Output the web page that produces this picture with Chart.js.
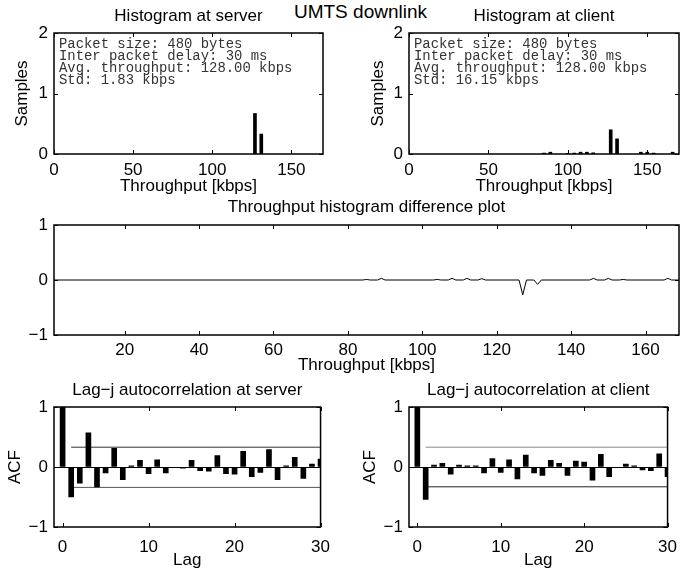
<!DOCTYPE html>
<html lang="en">
<head>
  <meta charset="UTF-8">
  <title>UMTS downlink</title>
  <script src="https://cdn.jsdelivr.net/npm/chart.js"></script>
  <style>
    html, body { margin: 0; padding: 0; background: #fff; overflow: hidden; }
    #fig { position: relative; width: 687px; height: 570px; }
    #fig canvas { position: absolute; }
    #suptitle {
      position: absolute; left: 240px; top: 1px; width: 241px;
      text-align: center; color: #000;
      font: 19px "Liberation Sans", Arial, sans-serif; line-height: 22px;
    }
  </style>
</head>
<body>
  <div id="fig">
    <div id="suptitle">UMTS downlink</div>
    <canvas id="histServer" width="340" height="197" style="left:0;top:0"></canvas>
    <canvas id="histClient" width="347" height="197" style="left:340px;top:0"></canvas>
    <canvas id="diffPlot" width="687" height="180" style="left:0;top:195px"></canvas>
    <canvas id="acfServer" width="340" height="205" style="left:0;top:370px"></canvas>
    <canvas id="acfClient" width="347" height="205" style="left:340px;top:370px"></canvas>
  </div>

  <script>
    // histogram values (throughput kbps -> samples)
    const serverX = [127, 131];
    const serverY = [0.67, 0.33];
    const clientX = [85, 89, 100, 104, 108, 112, 116, 127, 131, 146, 150, 154, 166];
    const clientY = [0.015, 0.03, 0.01, 0.015, 0.03, 0.03, 0.02, 0.40, 0.25, 0.03, 0.03, 0.015, 0.03];

    // difference plot (client - server), vertices of the line
    const diffX = [1, 84, 85, 86, 88, 89, 90, 103, 104, 105, 107, 108, 109, 111, 112, 113, 115, 116, 117,
                   126, 127, 128, 130, 131, 132, 145, 146, 147, 149, 150, 151, 153, 154, 155, 165, 166, 167, 169];
    const diffY = [0, 0, 0.01, 0, 0, 0.03, 0, 0, 0.01, 0, 0, 0.03, 0, 0, 0.03, 0, 0, 0.025, 0,
                   0, -0.27, 0, 0, -0.08, 0, 0, 0.03, 0, 0, 0.03, 0, 0, 0.01, 0, 0, 0.03, 0, 0];

    // autocorrelation, lags 0..30
    const lags = [0, 1, 2, 3, 4, 5, 6, 7, 8, 9, 10, 11, 12, 13, 14, 15, 16, 17, 18, 19, 20, 21, 22, 23, 24, 25, 26, 27, 28, 29, 30];
    const acfServer = [1.0, -0.50, -0.27, 0.57, -0.33, -0.10, 0.31, -0.21, 0.02, 0.11, -0.11, 0.12, -0.10, -0.01, -0.02,
                       0.11, -0.06, -0.07, 0.19, -0.11, -0.12, 0.26, -0.16, -0.09, 0.29, -0.21, 0.02, 0.16, -0.19, 0.05, 0.13];
    const acfClient = [1.0, -0.54, 0.03, 0.06, -0.12, 0.03, 0.02, 0.02, -0.10, 0.14, -0.09, 0.12, -0.20, 0.20, -0.10,
                       -0.14, 0.11, 0.06, -0.14, 0.10, 0.08, -0.22, 0.21, -0.16, -0.01, 0.05, 0.02, -0.05, -0.06, 0.22, -0.16];
    const boundLags = [1, 30];
    const serverUpper = [0.33, 0.33];
    const serverLower = [-0.34, -0.34];
    const clientUpper = [0.33, 0.33];
    const clientLower = [-0.33, -0.33];

    // tick labels
    const histXTicks = [0, 50, 100, 150];
    const histYTicks = [0, 1, 2];
    const diffXTicks = [20, 40, 60, 80, 100, 120, 140, 160];
    const diffYTicks = [-1, 0, 1];
    const acfXTicks = [0, 10, 20, 30];
    const acfYTicks = [-1, 0, 1];

    const serverInfo = ['Packet size: 480 bytes', 'Inter packet delay: 30 ms', 'Avg. throughput: 128.00 kbps', 'Std: 1.83 kbps'];
    const clientInfo = ['Packet size: 480 bytes', 'Inter packet delay: 30 ms', 'Avg. throughput: 128.00 kbps', 'Std: 16.15 kbps'];

    Chart.defaults.font.family = '"Liberation Sans", Arial, Helvetica, sans-serif';
    Chart.defaults.color = '#000';

    const pts = (xs, ys) => xs.map((x, i) => ({ x: x, y: ys[i] }));
    const fmt = v => v < 0 ? '\u2212' + Math.abs(v) : String(v);

    // matlab style box with inward tick marks
    const boxPlugin = {
      id: 'box',
      afterDatasetsDraw(chart) {
        const { ctx, chartArea: a, scales: { x, y } } = chart;
        ctx.save();
        ctx.strokeStyle = '#000';
        ctx.lineWidth = 1;
        ctx.beginPath();
        x.ticks.forEach(t => {
          const px = Math.round(x.getPixelForValue(t.value)) + 0.5;
          ctx.moveTo(px, a.bottom); ctx.lineTo(px, a.bottom - 4);
          ctx.moveTo(px, a.top); ctx.lineTo(px, a.top + 4);
        });
        y.ticks.forEach(t => {
          const py = Math.round(y.getPixelForValue(t.value)) + 0.5;
          ctx.moveTo(a.left, py); ctx.lineTo(a.left + 4, py);
          ctx.moveTo(a.right, py); ctx.lineTo(a.right - 4, py);
        });
        ctx.stroke();
        ctx.lineWidth = 1.5;
        ctx.strokeRect(a.left, a.top, a.right - a.left, a.bottom - a.top);
        ctx.restore();
      }
    };

    function infoPlugin(lines) {
      return {
        id: 'info',
        afterDatasetsDraw(chart) {
          const { ctx, chartArea: a } = chart;
          ctx.save();
          ctx.font = '13.9px "Liberation Mono", "Courier New", monospace';
          ctx.fillStyle = '#333';
          ctx.textBaseline = 'middle';
          lines.forEach((s, i) => ctx.fillText(s, a.left + 5, a.top + 11 + i * 12.2));
          ctx.restore();
        }
      };
    }

    function makeScales(o) {
      return {
        x: {
          type: 'linear', min: o.xMin, max: o.xMax, offset: false,
          afterBuildTicks: s => { s.ticks = o.xTicks.map(v => ({ value: v })); },
          afterFit: s => { s.height = o.xHeight; },
          grid: { display: false, drawTicks: false }, border: { display: false },
          ticks: { font: { size: 17 }, padding: o.xPad, callback: fmt, maxRotation: 0, autoSkip: false },
          title: { display: true, text: o.xTitle, font: { size: 17, lineHeight: 1 }, padding: { top: 0, bottom: o.xTitlePad } }
        },
        y: {
          type: 'linear', min: o.yMin, max: o.yMax,
          afterBuildTicks: s => { s.ticks = o.yTicks.map(v => ({ value: v })); },
          afterFit: s => { s.width = o.yWidth; },
          grid: o.zeroLine
            ? { drawTicks: false, lineWidth: 1, color: c => (c.tick && c.tick.value === 0) ? '#000' : 'rgba(0,0,0,0)' }
            : { display: false, drawTicks: false },
          border: { display: false },
          ticks: { font: { size: 17 }, padding: 6, callback: fmt },
          title: { display: !!o.yTitle, text: o.yTitle || '', font: { size: 17, lineHeight: 1 }, padding: { top: o.yTitlePad || 0, bottom: 0 } }
        }
      };
    }

    function baseOptions(title, titlePad, rightPad, scales) {
      return {
        responsive: false,
        animation: false,
        layout: { padding: { left: 0, right: rightPad, top: 0, bottom: 0 }, autoPadding: false },
        plugins: {
          legend: { display: false },
          tooltip: { enabled: false },
          title: {
            display: true, text: title, fullSize: false,
            font: { size: 17, weight: 'normal', lineHeight: 1.2 },
            padding: titlePad
          }
        },
        scales: scales
      };
    }

    // top: histograms
    new Chart(document.getElementById('histServer'), {
      type: 'bar',
      data: { datasets: [{ data: pts(serverX, serverY), backgroundColor: '#000', barThickness: 3, clip: 0 }] },
      options: baseOptions('Histogram at server', { top: 6, bottom: 6.6 }, 17, makeScales({
        xMin: 0, xMax: 170, xTicks: histXTicks, xHeight: 43, xPad: 6, xTitle: 'Throughput [kbps]', xTitlePad: 2,
        yMin: 0, yMax: 2, yTicks: histYTicks, yWidth: 54, yTitle: 'Samples', yTitlePad: 14
      })),
      plugins: [boxPlugin, infoPlugin(serverInfo)]
    });

    new Chart(document.getElementById('histClient'), {
      type: 'bar',
      data: { datasets: [{ data: pts(clientX, clientY), backgroundColor: '#000', barThickness: 3, clip: 0 }] },
      options: baseOptions('Histogram at client', { top: 6, bottom: 6.6 }, 8, makeScales({
        xMin: 0, xMax: 170, xTicks: histXTicks, xHeight: 43, xPad: 6, xTitle: 'Throughput [kbps]', xTitlePad: 2,
        yMin: 0, yMax: 2, yTicks: histYTicks, yWidth: 69, yTitle: 'Samples', yTitlePad: 30
      })),
      plugins: [boxPlugin, infoPlugin(clientInfo)]
    });

    // middle: difference plot
    new Chart(document.getElementById('diffPlot'), {
      type: 'line',
      data: { datasets: [{ data: pts(diffX, diffY), borderColor: '#000', borderWidth: 1, pointRadius: 0, tension: 0 }] },
      options: baseOptions('Throughput histogram difference plot', { top: 2, bottom: 7.6 }, 8, makeScales({
        xMin: 1, xMax: 169, xTicks: diffXTicks, xHeight: 40, xPad: 5, xTitle: 'Throughput [kbps]', xTitlePad: 1,
        yMin: -1, yMax: 1, yTicks: diffYTicks, yWidth: 54
      })),
      plugins: [boxPlugin]
    });

    // bottom: autocorrelation
    function acfChart(id, title, values, upper, lower, upColor, lowColor, rightPad, yWidth, yTitlePad) {
      new Chart(document.getElementById(id), {
        type: 'bar',
        data: {
          datasets: [
            { data: pts(lags, values), backgroundColor: '#000', barThickness: 5, clip: 0 },
            { type: 'line', data: pts(boundLags, upper), borderColor: upColor, borderWidth: 1, pointRadius: 0 },
            { type: 'line', data: pts(boundLags, lower), borderColor: lowColor, borderWidth: 1, pointRadius: 0 }
          ]
        },
        options: baseOptions(title, { top: 10, bottom: 6.6 }, rightPad, makeScales({
          xMin: -1, xMax: 30, xTicks: acfXTicks, xHeight: 48, xPad: 10, xTitle: 'Lag', xTitlePad: 6,
          yMin: -1, yMax: 1, yTicks: acfYTicks, yWidth: yWidth, yTitle: 'ACF', yTitlePad: yTitlePad, zeroLine: true
        })),
        plugins: [boxPlugin]
      });
    }

    acfChart('acfServer', 'Lag\u2212j autocorrelation at server', acfServer, serverUpper, serverLower, '#333', '#555', 17, 54, 7);
    acfChart('acfClient', 'Lag\u2212j autocorrelation at client', acfClient, clientUpper, clientLower, '#888', '#222', 8, 69, 22);
  </script>
</body>
</html>
